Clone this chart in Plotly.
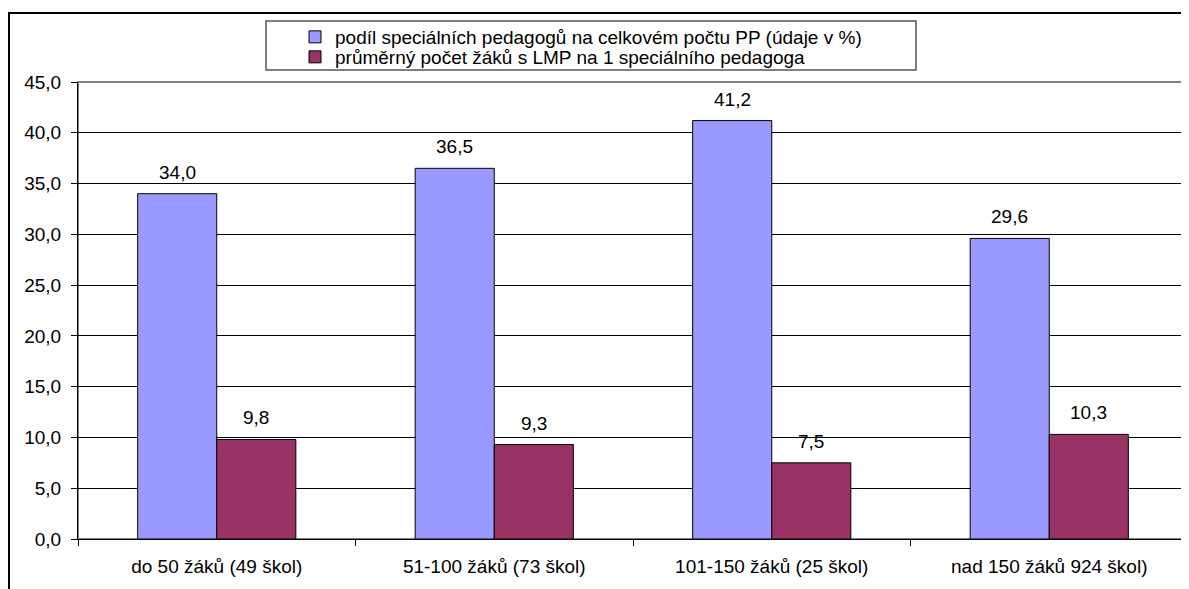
import plotly.graph_objects as go

categories = ["do 50 žáků (49 škol)", "51-100 žáků (73 škol)", "101-150 žáků (25 škol)", "nad 150 žáků 924 škol)"]
share_values = [34.0, 36.5, 41.2, 29.6]
pupils_values = [9.8, 9.3, 7.5, 10.3]
series_names = ["podíl speciálních pedagogů na celkovém počtu PP (údaje v %)",
                "průměrný počet žáků s LMP na 1 speciálního pedagoga"]
y_ticks = [0, 5, 10, 15, 20, 25, 30, 35, 40, 45]

FONT = "Liberation Sans, Arial, sans-serif"
FS = 19
BARGAP = 0.43
W, H = 1181, 581
ML, MR, MT, MB = 70, 1, 74, 50
PLOT_W = W - ML - MR
PLOT_H = H - MT - MB
half_bar = (1 - BARGAP) * (PLOT_W / len(categories)) / 4


def fmt(v):
    return f"{v:.1f}".replace(".", ",")


def px_x(px):
    return (px - ML) / PLOT_W


def px_y(py):
    return (H - MB - py) / PLOT_H


fig = go.Figure()
fig.add_trace(go.Bar(
    x=categories, y=share_values, name=series_names[0], legend="legend",
    marker=dict(color="#9999FF", line=dict(color="#000000", width=1)),
))
fig.add_trace(go.Bar(
    x=categories, y=pupils_values, name=series_names[1], legend="legend2",
    marker=dict(color="#993366", line=dict(color="#000000", width=1)),
))

annotations = []
for cat, v in zip(categories, share_values):
    annotations.append(dict(x=cat, y=v, xref="x", yref="y", text=fmt(v), showarrow=False,
                            xshift=-half_bar, yshift=9, yanchor="bottom",
                            font=dict(size=FS, family=FONT, color="#000000")))
for cat, v in zip(categories, pupils_values):
    annotations.append(dict(x=cat, y=v, xref="x", yref="y", text=fmt(v), showarrow=False,
                            xshift=half_bar, yshift=9, yanchor="bottom",
                            font=dict(size=FS, family=FONT, color="#000000")))

leg_common = dict(
    xanchor="left", yanchor="middle",
    bgcolor="rgba(0,0,0,0)", borderwidth=0,
    font=dict(size=FS, family=FONT, color="#000000"),
    itemwidth=30,
)

fig.update_layout(
    width=W, height=H,
    margin=dict(l=ML, r=MR, t=MT, b=MB, autoexpand=False),
    paper_bgcolor="white", plot_bgcolor="white",
    font=dict(family=FONT, size=FS, color="#000000"),
    separators=", ",
    barmode="group", bargap=BARGAP, bargroupgap=0,
    showlegend=True,
    legend=dict(x=px_x(287), y=px_y(29), **leg_common),
    legend2=dict(x=px_x(287), y=px_y(49), **leg_common),
    xaxis=dict(
        showline=True, linecolor="#000000", linewidth=1,
        ticks="outside", ticklen=6, tickcolor="#000000",
        tickson="boundaries", showgrid=False,
        tickfont=dict(size=FS, family=FONT, color="#000000"),
        ticklabelstandoff=10, automargin=False,
    ),
    yaxis=dict(
        range=[0, 45], tickvals=y_ticks, tickformat=".1f",
        showline=True, linecolor="#000000", linewidth=1,
        ticks="outside", ticklen=6, tickcolor="#000000",
        showgrid=True, gridcolor="#000000", gridwidth=1,
        zeroline=False,
        tickfont=dict(size=FS, family=FONT, color="#000000"),
        ticklabelstandoff=6, automargin=False,
    ),
    annotations=annotations,
    shapes=[
        dict(type="rect", xref="paper", yref="paper",
             x0=0, x1=1, y0=0, y1=1,
             line=dict(color="#808080", width=2), layer="below"),
        dict(type="rect", xref="paper", yref="paper",
             x0=px_x(258), x1=px_x(908), y0=px_y(62), y1=px_y(13),
             line=dict(color="#555555", width=1.5), fillcolor="white", layer="below"),
        dict(type="rect", xref="paper", yref="paper",
             x0=px_x(1), x1=px_x(1300), y0=px_y(700), y1=px_y(5),
             line=dict(color="#000000", width=2), layer="above",
             fillcolor="rgba(0,0,0,0)"),
    ],
)

fig.write_html("out.html")
